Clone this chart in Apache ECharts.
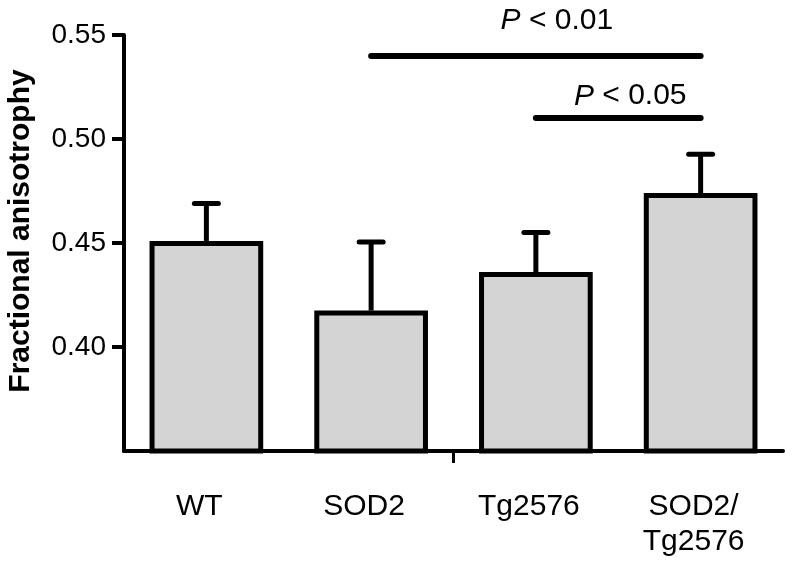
<!DOCTYPE html>
<html>
<head>
<meta charset="utf-8">
<script src="https://cdn.jsdelivr.net/npm/echarts@6/dist/echarts.min.js"></script>
<style>html,body{margin:0;padding:0;background:#fff}#c{width:800px;height:566px}</style>
</head>
<body>
<div id="c"></div>
<script>
var categories = ['WT', 'SOD2', 'Tg2576', 'SOD2/\nTg2576'];
var means = [0.451, 0.4175, 0.436, 0.474];
var sem = [0.018, 0.033, 0.019, 0.0187];
var yTicks = [0.40, 0.45, 0.50, 0.55];
var sigBars = [
  { from: 1, to: 3, y: 0.54, text: '< 0.01' },
  { from: 2, to: 3, y: 0.51, text: '< 0.05' }
];

var FONT = '"Liberation Sans", Arial, Helvetica, sans-serif';
var chart = echarts.init(document.getElementById('c'));

var labelOffsets = [[21, -20], [12, -7]];
var markData = sigBars.map(function (s, i) {
  return [
    { coord: [s.from, s.y], label: { offset: labelOffsets[i] } },
    { coord: [s.to, s.y] }
  ];
});

var option = {
  backgroundColor: '#fff',
  animation: false,
  grid: { left: 124, right: 17, top: 35, bottom: 115, containLabel: false, outerBoundsMode: 'none' },
  xAxis: [{
    type: 'category',
    data: categories,
    boundaryGap: true,
    axisLine: { show: true, lineStyle: { color: '#000', width: 4 } },
    axisTick: { show: false },
    axisLabel: {
      color: '#000', fontFamily: FONT, fontSize: 30, margin: 38,
      lineHeight: 35, padding: [0, 14, 0, 0]
    }
  }, {
    type: 'value', min: 0, max: 4, position: 'bottom',
    axisLine: { show: false },
    splitLine: { show: false },
    axisLabel: { show: false },
    axisTick: { show: true, customValues: [2], length: 12, lineStyle: { color: '#000', width: 3 } }
  }],
  yAxis: {
    type: 'value',
    min: 0.35, max: 0.55, interval: 0.05,
    name: 'Fractional anisotrophy',
    nameLocation: 'middle',
    nameGap: 88,
    nameRotate: 90,
    nameTextStyle: { color: '#000', fontFamily: FONT, fontSize: 30, fontWeight: 'bold', padding: [0, 0, 0, 24] },
    axisLine: { show: true, lineStyle: { color: '#000', width: 4 } },
    axisTick: { show: true, customValues: yTicks, length: 12, lineStyle: { color: '#000', width: 4 } },
    axisLabel: {
      customValues: yTicks,
      color: '#000', fontFamily: FONT, fontSize: 28, margin: 18,
      formatter: function (v) { return v.toFixed(2); }
    },
    splitLine: { show: false }
  },
  series: [{
    type: 'bar',
    data: means,
    barWidth: '69%',
    itemStyle: { color: '#d4d4d4', borderColor: '#000', borderWidth: 5 },
    z: 3
  }, {
    type: 'custom',
    data: means.map(function (m, i) { return [i, m, m + sem[i]]; }),
    renderItem: function (params, api) {
      var x = api.value(0);
      var base = api.coord([x, api.value(1)]);
      var top = api.coord([x, api.value(2)]);
      var half = 12;
      return {
        type: 'group',
        children: [{
          type: 'line',
          shape: { x1: base[0], y1: base[1], x2: top[0], y2: top[1] },
          style: { stroke: '#000', lineWidth: 5 }
        }, {
          type: 'line',
          shape: { x1: top[0] - half, y1: top[1], x2: top[0] + half, y2: top[1] },
          style: { stroke: '#000', lineWidth: 5, lineCap: 'round' }
        }]
      };
    },
    z: 2,
    markLine: {
      silent: true,
      symbol: 'none',
      animation: false,
      lineStyle: { color: '#000', width: 6, type: 'solid', cap: 'round' },
      label: {
        show: true,
        position: 'middle',
        distance: 0,
        color: '#000',
        fontFamily: FONT,
        fontSize: 30,
        formatter: function (p) {
          return '{i|P} ' + sigBars[p.dataIndex].text;
        },
        rich: {
          i: { fontStyle: 'italic', fontFamily: FONT, fontSize: 30, color: '#000' }
        }
      },
      emphasis: { disabled: true },
      data: markData
    }
  }]
};
chart.setOption(option);
</script>
</body>
</html>
